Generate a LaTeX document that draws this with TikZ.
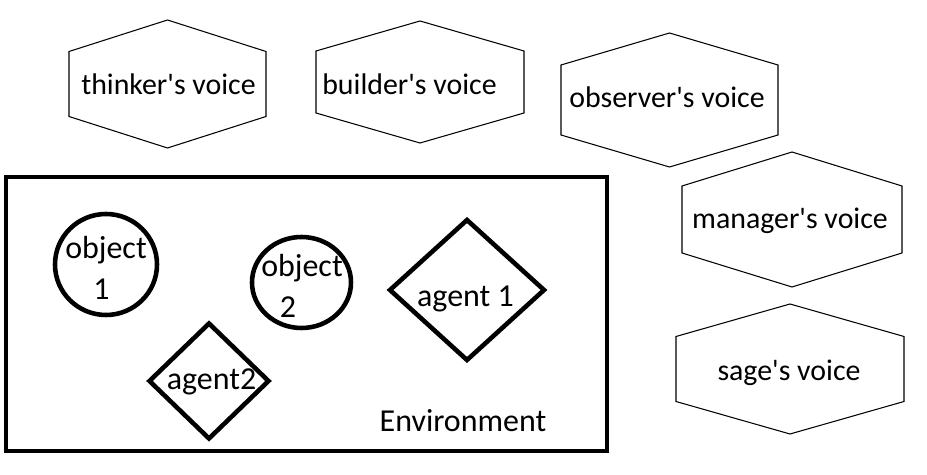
\documentclass[tikz,border=0pt]{standalone}
\usepackage{fontspec}
\newfontfamily\calfont{Carlito}
\usetikzlibrary{calc}

% hexagon round a voice: centre, half width, half side, apex
\newcommand{\voicehex}[4]{%
  \draw[hexline] (#1) +(-#2,-#3) -- +(0,-#4) -- +(#2,-#3)
    -- +(#2,#3) -- +(0,#4) -- +(-#2,#3) -- cycle;}

\begin{document}
\begin{tikzpicture}[%
    x = 0.02cm,
    y = -0.02cm,
    voice/.style = {%
      font = \calfont\fontsize{17}{20}\selectfont,
      inner sep = 0pt,
      anchor = base },
    thing/.style = {%
      font = \calfont\fontsize{18.2}{23.6}\selectfont,
      align = center,
      inner sep = 0pt },
    hexline/.style = {draw, line width = 0.6pt},
    envline/.style = {draw, line width = 2.6pt}
  ]

  \path[use as bounding box] (0,0) rectangle (927,475);

  % the voices
  \node[voice] (thinker) at (168.5,95) {thinker's voice};
  \node[voice] (builder) at (409.5,95) {builder's voice};
  \node[voice] (observer) at (667,108) {observer's voice};
  \node[voice] (manager) at (790,229) {manager's voice};
  \node[voice] (sage) at (789,381) {sage's voice};

  \voicehex{167.5,84}{98.5}{32.5}{64}
  \voicehex{420,82}{104}{31}{61}
  \voicehex{669.5,100}{108.5}{35}{67}
  \voicehex{792,219.5}{110}{33.5}{67.5}
  \voicehex{790,369}{114}{32.5}{65}

  % the environment
  \draw[envline] (6,177) rectangle (607,451);
  \node[thing, anchor=base] (env) at (463,432) {Environment};

  \node[thing] (obj1) at (106,268) {object\\1\kern0.18cm};
  \node[thing] (obj2) at (302,286) {object\\2\kern0.56cm};
  \draw[envline] (106,264.5) ellipse [x radius=51, y radius=50.5];
  \draw[envline] (301.5,282.5) ellipse [x radius=49.5, y radius=45.5];

  \node[thing, anchor=base] (agent1) at (465.5,307) {agent 1};
  \node[thing, anchor=base] (agent2) at (211.5,390) {agent2};
  \coordinate (a1c) at (467,290);
  \coordinate (a2c) at (209,381);
  \draw[envline] (a1c) +(-77,0) -- +(0,-70) -- +(77,0) -- +(0,70) -- cycle;
  \draw[envline] (a2c) +(-59.5,0) -- +(0,-57.5) -- +(59.5,0) -- +(0,57.5) -- cycle;

\end{tikzpicture}
\end{document}
